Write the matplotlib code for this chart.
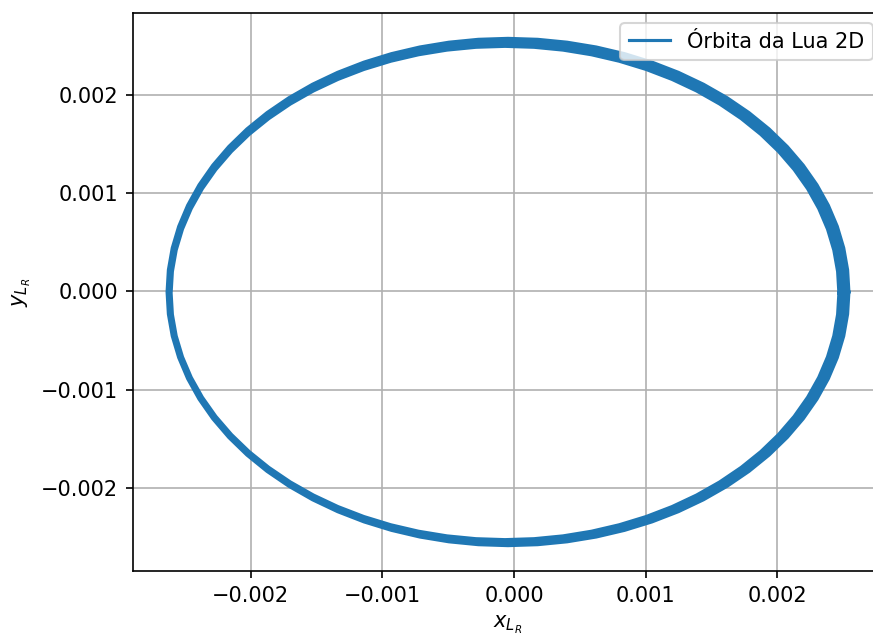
import matplotlib
matplotlib.use('Agg')
import matplotlib.pyplot as plt
import numpy as np

# orbit band, in units of 1e-6, every 5 degrees round the centre
# outer edge of the band
x_outer = [2543.8, 2533.9, 2504.5, 2455.6, 2387.6, 2301.2, 2196.9, 2075.5, 1938.0,
           1785.4, 1618.8, 1439.6, 1249.1, 1048.7, 840.0, 624.6, 404.0, 180.1,
           -45.6, -271.3, -495.2, -715.8, -931.2, -1139.9, -1340.3, -1530.8, -1710.0,
           -1876.6, -2029.2, -2166.7, -2288.1, -2392.4, -2478.8, -2546.8, -2595.7, -2625.1,
           -2635.0, -2625.1, -2595.7, -2546.8, -2478.8, -2392.4, -2288.1, -2166.7, -2029.2,
           -1876.6, -1710.0, -1530.8, -1340.3, -1139.9, -931.2, -715.8, -495.2, -271.3,
           -45.6, 180.1, 404.0, 624.6, 840.0, 1048.7, 1249.1, 1439.6, 1618.8,
           1785.4, 1938.0, 2075.5, 2196.9, 2301.2, 2387.6, 2455.6, 2504.5, 2533.9]
y_outer = [-5.1, 219.7, 442.7, 662.3, 876.9, 1084.7, 1284.3, 1474.0, 1652.5,
           1818.3, 1970.3, 2107.2, 2228.1, 2332.0, 2418.1, 2485.8, 2534.4, 2563.8,
           2573.6, 2563.8, 2534.4, 2485.8, 2418.1, 2332.0, 2228.1, 2107.2, 1970.3,
           1818.3, 1652.5, 1474.0, 1284.3, 1084.7, 876.9, 662.3, 442.7, 219.7,
           -5.1, -229.9, -452.9, -672.5, -887.1, -1094.9, -1294.5, -1484.2, -1662.7,
           -1828.5, -1980.5, -2117.4, -2238.3, -2342.2, -2428.3, -2496.0, -2544.6, -2574.0,
           -2583.8, -2574.0, -2544.6, -2496.0, -2428.3, -2342.2, -2238.3, -2117.4, -1980.5,
           -1828.5, -1662.7, -1484.2, -1294.5, -1094.9, -887.1, -672.5, -452.9, -229.9]
# inner edge of the band
x_inner = [2467.7, 2458.0, 2429.2, 2381.3, 2314.8, 2230.1, 2127.9, 2009.0, 1874.4,
           1724.9, 1561.8, 1386.3, 1199.7, 1003.4, 799.0, 588.0, 372.0, 152.6,
           -68.4, -289.4, -508.8, -724.8, -935.8, -1140.2, -1336.5, -1523.1, -1698.6,
           -1861.7, -2011.2, -2145.8, -2264.7, -2366.9, -2451.6, -2518.1, -2566.0, -2594.8,
           -2604.5, -2594.8, -2566.0, -2518.1, -2451.6, -2366.9, -2264.7, -2145.8, -2011.2,
           -1861.7, -1698.6, -1523.1, -1336.5, -1140.2, -935.8, -724.8, -508.8, -289.4,
           -68.4, 152.6, 372.0, 588.0, 799.0, 1003.4, 1199.7, 1386.3, 1561.8,
           1724.9, 1874.4, 2009.0, 2127.9, 2230.1, 2314.8, 2381.3, 2429.2, 2458.0]
y_inner = [-15.2, 203.4, 420.2, 633.8, 842.4, 1044.6, 1238.6, 1423.1, 1596.7,
           1757.9, 1905.7, 2038.9, 2156.5, 2257.5, 2341.2, 2407.0, 2454.3, 2482.9,
           2492.4, 2482.9, 2454.3, 2407.0, 2341.2, 2257.5, 2156.5, 2038.9, 1905.7,
           1757.9, 1596.7, 1423.1, 1238.6, 1044.6, 842.4, 633.8, 420.2, 203.4,
           -15.2, -233.8, -450.6, -664.2, -872.8, -1075.0, -1269.0, -1453.5, -1627.1,
           -1788.3, -1936.1, -2069.3, -2186.9, -2287.9, -2371.6, -2437.4, -2484.7, -2513.3,
           -2522.8, -2513.3, -2484.7, -2437.4, -2371.6, -2287.9, -2186.9, -2069.3, -1936.1,
           -1788.3, -1627.1, -1453.5, -1269.0, -1075.0, -872.8, -664.2, -450.6, -233.8]

xo = np.array(x_outer + x_outer[:1]) * 1e-6
yo = np.array(y_outer + y_outer[:1]) * 1e-6
xi = np.array(x_inner + x_inner[:1]) * 1e-6
yi = np.array(y_inner + y_inner[:1]) * 1e-6

fig = plt.figure(figsize=(873/150, 637/150), dpi=150)
ax = fig.add_axes([133/873, 66/637, 750/873, 558/637])

c = '#1f77b4'
ax.fill(np.concatenate([xo, xi[::-1]]), np.concatenate([yo, yi[::-1]]),
        color=c, linewidth=0, zorder=2)
ax.plot(xo, yo, color=c, label='Órbita da Lua 2D')
ax.plot(xi, yi, color=c)

ax.set_xlabel(r'$x_{L_R}$')
ax.set_ylabel(r'$y_{L_R}$')
ax.grid(True)
ax.legend(loc='upper right')

fig.savefig('out.png', dpi=150)
